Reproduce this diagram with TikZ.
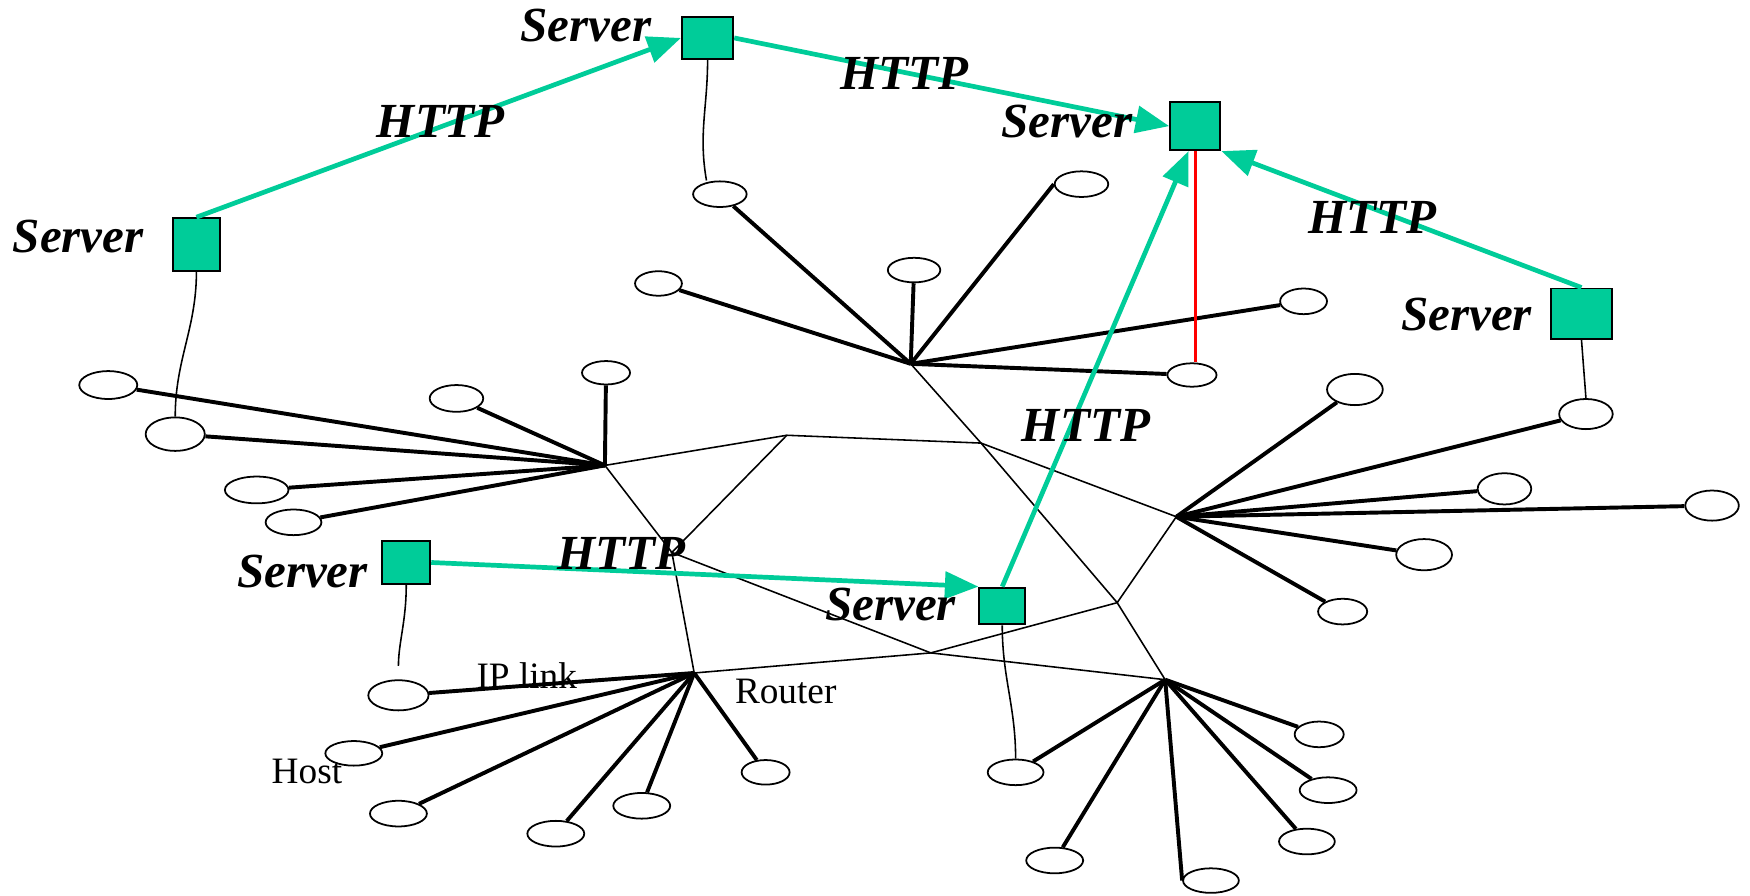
\documentclass[tikz,border=0pt]{standalone}
\usepackage{fontspec}
\setmainfont{Liberation Serif}
\usetikzlibrary{arrows.meta,positioning,shapes.geometric}
\definecolor{srvgreen}{RGB}{0,204,153}
\tikzset{
  host/.style={draw, ellipse, line width=0.45pt, minimum width=4.8mm, minimum height=2.4mm, inner sep=0pt},
  server/.style={draw, fill=srvgreen, line width=0.5pt, inner sep=0pt},
  hostlink/.style={line width=1pt},
  netlink/.style={line width=0.4pt},
  wire/.style={line width=0.4pt},
  http/.style={srvgreen, line width=1.2pt, -{Triangle[length=3mm,width=2.4mm]}},
  srvlabel/.style={font=\fontsize{12.5}{15}\selectfont\bfseries\itshape, inner sep=0pt},
  smalllabel/.style={font=\fontsize{9.5}{11}\selectfont, inner sep=0pt},
}
\begin{document}
\begin{tikzpicture}[x=0.1mm,y=-0.1mm]
        \useasboundingbox (0,0) rectangle (1568,802);
        % routers and joints
        \coordinate (r1) at (542,417);
        \coordinate (r2) at (816,326);
        \coordinate (r3) at (1054,463);
        \coordinate (r4) at (622,603);
        \coordinate (r5) at (1044,609);
        \coordinate (j1) at (705,390);
        \coordinate (j2) at (879,397);
        \coordinate (j3) at (602,495);
        \coordinate (j4) at (1001,540);
        \coordinate (j5) at (834,585);

        % IP links between routers
        \draw[netlink] (r1) -- (j1) -- (j2) -- (r3) -- (j4) -- (j5) -- (r4) ;
        \draw[netlink] (r2) -- (j2) -- (j4) -- (r5) ;
        \draw[netlink] (r1) -- (j3) -- (r4) ;
        \draw[netlink] (j1) -- (j3) -- (j5) -- (r5) ;

        % hosts
        \node[host, minimum width=5.2mm, minimum height=2.5mm] (h11) at (97,345) {};
        \node[host, minimum width=5.3mm, minimum height=3mm] (h12) at (157,389) {};
        \node[host] (h13) at (409,357) {};
        \node[host, minimum width=4.3mm, minimum height=2.1mm] (h14) at (543,334) {};
        \node[host, minimum width=5.7mm] (h15) at (230,439) {};
        \node[host, minimum width=5mm, minimum height=2.3mm] (h16) at (263,468) {};

        \node[host, minimum height=2.3mm] (h21) at (645,174) {};
        \node[host, minimum width=4.2mm, minimum height=2.2mm] (h22) at (590,254) {};
        \node[host, minimum width=4.7mm, minimum height=2.2mm] (h23) at (819,242) {};
        \node[host, minimum height=2.3mm] (h24) at (969,165) {};
        \node[host, minimum width=4.2mm, minimum height=2.3mm] (h25) at (1168,270) {};
        \node[host, minimum width=4.4mm, minimum height=2.1mm] (h26) at (1068,336) {};

        \node[host, minimum width=5mm, minimum height=2.8mm] (h31) at (1214,349) {};
        \node[host, minimum height=2.7mm] (h32) at (1421,371) {};
        \node[host, minimum height=2.8mm] (h33) at (1348,438) {};
        \node[host, minimum height=2.7mm] (h34) at (1534,453) {};
        \node[host, minimum width=5mm, minimum height=2.8mm] (h35) at (1276,497) {};
        \node[host, minimum width=4.4mm, minimum height=2.3mm] (h36) at (1203,548) {};

        \node[host, minimum width=5.4mm, minimum height=2.7mm] (h41) at (357,623) {};
        \node[host, minimum width=5.1mm, minimum height=2.2mm] (h42) at (317,675) {};
        \node[host, minimum width=5.1mm, minimum height=2.3mm] (h43) at (357,729) {};
        \node[host, minimum width=5.1mm, minimum height=2.3mm] (h44) at (498,747) {};
        \node[host, minimum width=5.1mm, minimum height=2.3mm] (h45) at (575,722) {};
        \node[host, minimum width=4.3mm, minimum height=2.2mm] (h46) at (686,692) {};

        \node[host, minimum width=5mm, minimum height=2.3mm] (h51) at (910,692) {};
        \node[host, minimum width=4.4mm, minimum height=2.3mm] (h52) at (1182,658) {};
        \node[host, minimum width=5.1mm, minimum height=2.3mm] (h53) at (1190,708) {};
        \node[host, minimum width=5mm, minimum height=2.3mm] (h54) at (1171,754) {};
        \node[host, minimum width=5.1mm, minimum height=2.3mm] (h55) at (945,771) {};
        \node[host, minimum width=5mm, minimum height=2.2mm] (h56) at (1085,789) {};

        % links from routers to hosts
        \draw[hostlink] (r1) -- (h11) ; \draw[hostlink] (r1) -- (h12) ; \draw[hostlink] (r1) -- (h13) ;
        \draw[hostlink] (r1) -- (h14) ; \draw[hostlink] (r1) -- (h15) ; \draw[hostlink] (r1) -- (h16) ;
        \draw[hostlink] (r2) -- (h21) ; \draw[hostlink] (r2) -- (h22) ; \draw[hostlink] (r2) -- (h23) ;
        \draw[hostlink] (r2) -- (h24.west) ; \draw[hostlink] (r2) -- (h25) ; \draw[hostlink] (r2) -- (h26) ;
        \draw[hostlink] (r3) -- (h31) ; \draw[hostlink] (r3) -- (h32) ; \draw[hostlink] (r3) -- (h33) ;
        \draw[hostlink] (r3) -- (h34) ; \draw[hostlink] (r3) -- (h35) ; \draw[hostlink] (r3) -- (h36) ;
        \draw[hostlink] (r4) -- (h41) ; \draw[hostlink] (r4) -- (h42) ; \draw[hostlink] (r4) -- (h43) ;
        \draw[hostlink] (r4) -- (h44) ; \draw[hostlink] (r4) -- (h45) ; \draw[hostlink] (r4) -- (h46) ;
        \draw[hostlink] (r5) -- (h51) ; \draw[hostlink] (r5) -- (h52) ; \draw[hostlink] (r5) -- (h53) ;
        \draw[hostlink] (r5) -- (h54) ; \draw[hostlink] (r5) -- (h55) ; \draw[hostlink] (r5) -- (h56.west) ;

        % servers
        \node[server, minimum width=4.2mm, minimum height=4.7mm] (s1) at (176,219) {};
        \node[server, minimum width=4.6mm, minimum height=3.8mm] (s2) at (634,34) {};
        \node[server, minimum width=4.5mm, minimum height=4.3mm] (s3) at (1071,113) {};
        \node[server, minimum width=5.4mm, minimum height=4.5mm] (s4) at (1417,281) {};
        \node[server, minimum width=4.3mm, minimum height=3.8mm] (s5) at (364,504) {};
        \node[server, minimum width=4.1mm, minimum height=3.3mm] (s6) at (898,543) {};

        % servers on their hosts
        \draw[wire] (s1.south) to[out=-90,in=90] (h12.north) ;
        \draw[wire] (s2.south) to[out=-90,in=100] ([xshift=-1.2mm]h21.north) ;
        \draw[wire] (s4.south) -- (h32.north) ;
        \draw[wire, shorten >=1.2mm] (s5.south) to[out=-90,in=90] (h41.north) ;
        \draw[wire] (s6.south) to[out=-90,in=90] (h51.north) ;
        \draw[red, line width=0.9pt] (s3.south) -- (s3.south |- h26.north) ;

        % HTTP requests
        \draw[http] (s1.north) -- (s2.west) ;
        \draw[http] (s2.east) -- (s3.west) ;
        \draw[http] (s4.north) -- (s3.south east) ;
        \draw[http] (s6.north) -- ([xshift=-0.6mm]s3.south) ;
        \draw[http] (s5.east) -- (s6.north west) ;

        % labels
        \node[srvlabel] (l1) at (70,212) {Server};
        \node[srvlabel] (l2) at (525,23) {Server};
        \node[srvlabel] (l3) at (956,109) {Server};
        \node[srvlabel] (l4) at (1314,282) {Server};
        \node[srvlabel] (l5) at (271,512) {Server};
        \node[srvlabel] (l6) at (798,542) {Server};
        \node[srvlabel] (t1) at (395,109) {HTTP};
        \node[srvlabel] (t2) at (810,66) {HTTP};
        \node[srvlabel] (t3) at (1230,195) {HTTP};
        \node[srvlabel] (t4) at (973,381) {HTTP};
        \node[srvlabel] (t5) at (557,496) {HTTP};
        \node[smalllabel] (iplink) at (472,605) {IP link};
        \node[smalllabel] (router) at (704,620) {Router};
        \node[smalllabel] (hostl) at (275,691) {Host};
\end{tikzpicture}
\end{document}
